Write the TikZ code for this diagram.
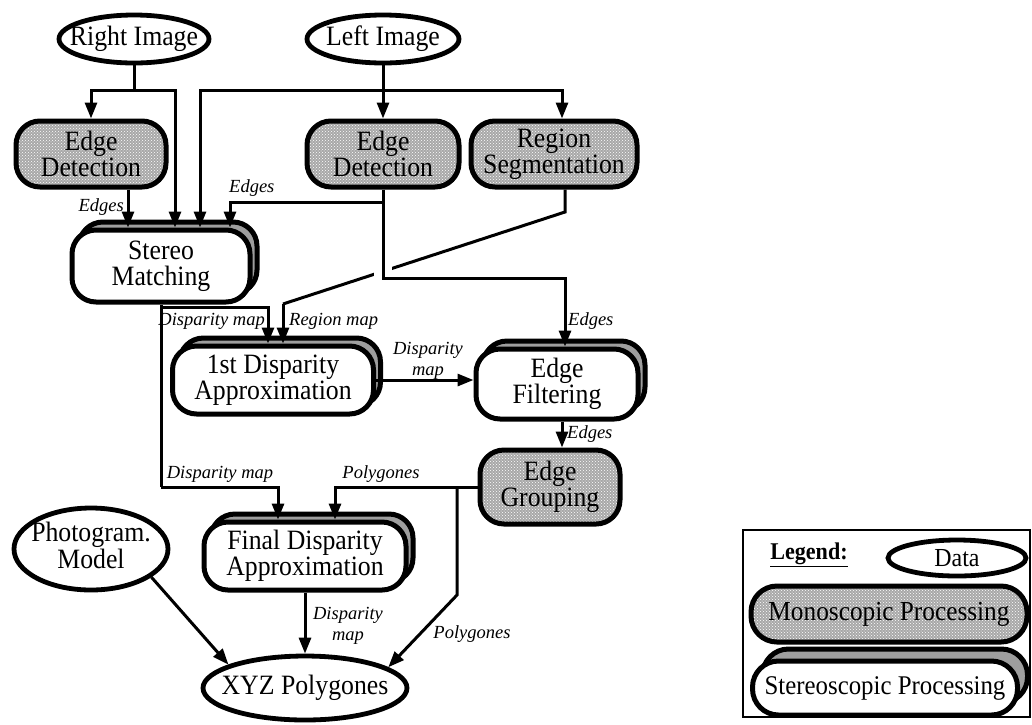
\documentclass[tikz,border=0pt]{standalone}
\usepackage{fontspec}
\setmainfont{Liberation Serif}[FakeStretch=0.92]
\newfontfamily\lblfont{Liberation Serif}
\usetikzlibrary{arrows.meta,shapes.geometric,shadows,patterns,calc}
\newcommand\nobox[1]{\makebox[0pt][c]{#1}}
\newcommand\twol[2]{\makebox[0pt][c]{\begin{tabular}{@{}c@{}}#1\\#2\end{tabular}}}
\begin{document}
\begin{tikzpicture}[x=1pt,y=-1pt,
  conn/.style={line width=3pt},
  arr/.style={conn,-{Triangle[length=16pt,width=12pt]}},
  nf/.style={font=\fontsize{28}{26}\selectfont},
  datanode/.style={ellipse,draw,line width=4.8pt,inner sep=0pt,nf,fill=white},
  mono/.style={rounded corners=24pt,draw,line width=5pt,preaction={fill=black!34},pattern=crosshatch dots,pattern color=white,inner sep=0pt,nf,align=center},
  stereobase/.style={rounded corners=24pt,draw,line width=5pt,fill=white,inner sep=0pt,nf,align=center},
  stereo/.style={stereobase,copy shadow={shadow xshift=7pt,shadow yshift=8pt,fill=black!38,draw=black,line width=5pt}},
  stereoL/.style={stereobase,copy shadow={shadow xshift=10pt,shadow yshift=12pt,fill=black!38,draw=black,line width=5pt}},
  lbl/.style={font=\lblfont\fontsize{18.5}{21}\selectfont\itshape,inner sep=1pt,align=center}
]
\useasboundingbox (0,0) rectangle (1032,724);

% nodes
\node[datanode,minimum width=150pt,minimum height=48pt] (ri) at (134,39) {\nobox{Right Image}};
\node[datanode,minimum width=152pt,minimum height=48pt] (li) at (383,39) {\nobox{Left Image}};
\node[mono,minimum width=150pt,minimum height=66pt] (edl) at (91,154) {Edge\\Detection};
\node[mono,minimum width=152pt,minimum height=66pt] (edm) at (383,154) {Edge\\Detection};
\node[mono,minimum width=166pt,minimum height=66pt] (rs) at (554,154) {Region\\Segmentation};
\node[stereo,minimum width=178pt,minimum height=72pt] (sm) at (161,266) {Stereo\\Matching};
\node[stereo,minimum width=201pt,minimum height=68pt] (fa) at (273,380) {1st Disparity\\Approximation};
\node[stereo,minimum width=162pt,minimum height=70pt] (ef) at (557,384) {Edge\\Filtering};
\node[mono,minimum width=140pt,minimum height=74pt] (eg) at (550,487) {Edge\\Grouping};
\node[stereo,minimum width=202pt,minimum height=68pt] (fd) at (305,556) {Final Disparity\\Approximation};
\node[datanode,minimum width=154pt,minimum height=82pt] (pm) at (91,549) {\twol{Photogram.}{Model}};
\node[datanode,minimum width=204pt,minimum height=64pt] (xyz) at (305,688) {\nobox{XYZ Polygones}};

% right image
\coordinate (rj) at (134,90);
\draw[conn] (ri.south) -- (rj);
\draw[arr] (rj) -| (edl.north);
\draw[arr] (rj) -| ([xshift=14pt]sm.north);

% left image
\coordinate (lj) at (383,90);
\draw[arr] (li.south) -- (edm.north);
\draw[arr] (lj) -| ([xshift=8pt]rs.north);
\draw[arr] (lj) -| ([xshift=39pt]sm.north);

% edges left
\draw[arr] ([xshift=37pt]edl.south) -- ([xshift=-33pt]sm.north);
\node[lbl,anchor=east] (l1) at (125,207) {Edges};

% region segmentation -> 1st disparity
\coordinate (rs2) at (565,212);
\coordinate (rs3) at (283,304);
\draw[conn] ([xshift=11pt]rs.south) -- (rs2) -- (rs3);
\draw[arr] (rs3) -- ([xshift=10pt]fa.north);
\draw[white,line width=18pt] (383,260) -- (383,283);

% edge detection mid
\coordinate (ej) at (383,278);
\coordinate (ek) at (383,202);
\draw[arr] (edm.south) -- (ej) -| ([xshift=8pt]ef.north);
\draw[arr] (ek) -| ([xshift=69pt]sm.north);
\node[lbl,anchor=west] (l2) at (228,188) {Edges};
\node[lbl,anchor=west] (l3) at (567,321) {Edges};

% stereo matching outputs
\coordinate (sj) at (161,307);
\coordinate (sd) at (161,487);
\draw[conn] (sm.south) -- (sd);
\draw[arr] (sd) -| ([xshift=-27pt]fd.north);
\draw[arr] (sj) -| ([xshift=-5pt]fa.north);
\node[lbl,anchor=east] (l4) at (266,321) {Disparity map};
\node[lbl,anchor=west] (l5) at (288,321) {Region map};

% 1st disparity -> edge filtering
\draw[arr] (fa.east) -- (fa.east -| ef.west);
\node[lbl] (l6) at (428,361) {Disparity\\map};

% edge filtering -> grouping
\draw[arr] ([xshift=5pt]ef.south) -- ([xshift=12pt]eg.north);
\node[lbl,anchor=west] (l7) at (566,434) {Edges};

% edge grouping outputs
\coordinate (gj) at (457,487);
\coordinate (gb) at (457,595);
\draw[arr] (eg.west) -| ([xshift=30pt]fd.north);
\draw[arr] (gj) -- (gb) -- (xyz.14);
\node[lbl] (l8) at (220,474) {Disparity map};
\node[lbl] (l9) at (381,474) {Polygones};
\node[lbl] (l10) at (472,634) {Polygones};

% final -> xyz
\draw[arr] (fd.south) -- (xyz.north);
\node[lbl] (l11) at (348,626) {Disparity\\map};

% photogram -> xyz
\draw[arr] (pm.-25) -- (xyz.163);

% legend
\node[draw,line width=1.8pt,minimum width=287pt,minimum height=187pt,inner sep=0pt] (lg) at (886.5,623.5) {};
\node[font=\fontsize{24}{24}\selectfont\bfseries] (lgt) at (809,555) {\underline{Legend:}};
\node[datanode,minimum width=138pt,minimum height=36pt,font=\fontsize{26}{26}\selectfont] (ld) at (957,558) {\nobox{Data}};
\node[mono,minimum width=276pt,minimum height=56pt,rounded corners=26pt,font=\fontsize{27.5}{27}\selectfont] (lm) at (889,614) {Monoscopic Processing};
\node[stereoL,minimum width=265pt,minimum height=54pt,rounded corners=26pt,font=\fontsize{27}{27}\selectfont] (ls) at (885,688) {Stereoscopic Processing};
\end{tikzpicture}
\end{document}
